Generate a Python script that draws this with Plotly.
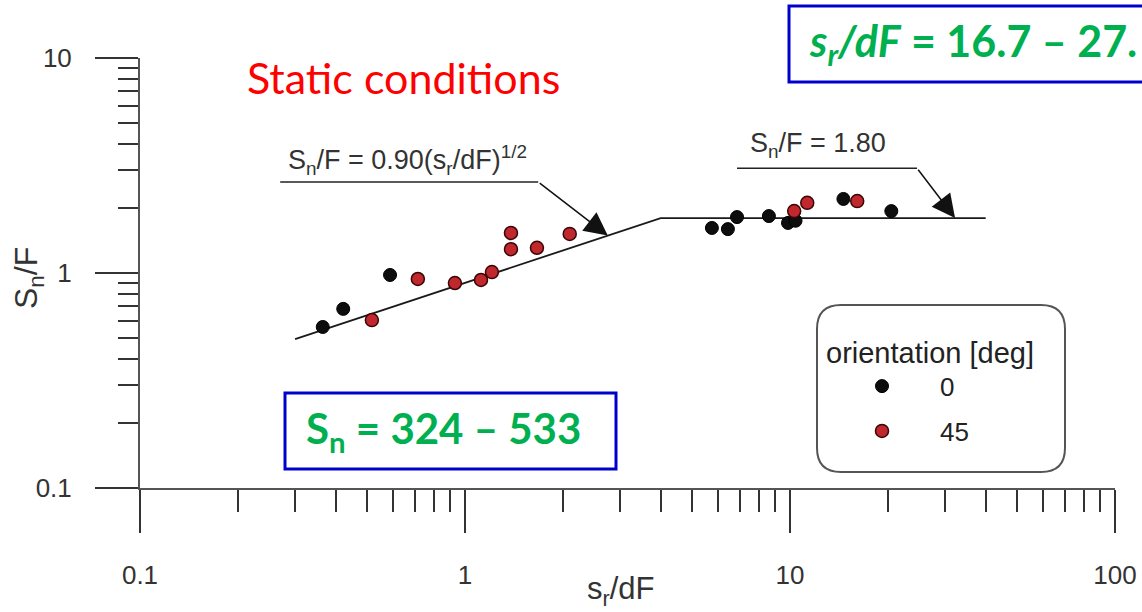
import math
import plotly.graph_objects as go

# Measured points, grouped by specimen orientation [deg]
orient0_x = [0.365, 0.422, 0.588, 5.75, 6.44, 6.87, 8.61, 9.86, 10.4, 14.6, 20.5]
orient0_y = [0.561, 0.681, 0.979, 1.62, 1.60, 1.82, 1.84, 1.71, 1.75, 2.21, 1.94]
orient45_x = [0.517, 0.716, 0.931, 1.12, 1.21, 1.385, 1.385, 1.665, 2.10, 10.3, 11.3, 16.1]
orient45_y = [0.604, 0.938, 0.898, 0.928, 1.01, 1.535, 1.29, 1.31, 1.52, 1.94, 2.12, 2.16]

# Axis ticks
x_tick_vals = [0.1, 1, 10, 100]
x_tick_text = ["0.1", "1", "10", "100"]
y_tick_vals = [0.1, 1, 10]
y_tick_text = ["0.1", "1", "10"]
x_minor_vals = [m * d for d in (0.1, 1, 10) for m in range(2, 10)]
y_minor_vals = [m * d for d in (0.1, 1) for m in range(2, 10)]

# Design correlation: Sn/F = 0.90 (sr/dF)^1/2, capped at Sn/F = 1.80
COEF = 0.90
PLATEAU = 1.80
fit_x = [0.3, (PLATEAU / COEF) ** 2, 40.0]
fit_y = [min(COEF * math.sqrt(x), PLATEAU) for x in fit_x]

# Figure geometry
W, H = 1142, 612
ML, MR, MT, MB = 140, 27, 58, 124


def px(xp):
    return (xp - ML) / (W - ML - MR)


def py(yp):
    return (H - MB - yp) / (H - MT - MB)


AX_FONT = "Liberation Sans, Arial, sans-serif"
CAL_FONT = "Lato, sans-serif"
GREEN = "#00B050"
BLUE = "#0000CC"
INK = "#333333"

fig = go.Figure()

fig.add_trace(go.Scatter(
    x=fit_x, y=fit_y, mode="lines",
    line=dict(color="#1a1a1a", width=1.8),
    showlegend=False, hoverinfo="skip"))

# leader underlines for the two equation labels
lead1_tip = (2.75, COEF * math.sqrt(2.75))
lead1_x = [0.27, 1.68]
lead1_y = [2.65, 2.65]
lead2_tip = (32.2, PLATEAU)
lead2_x = [6.87, 24.6]
lead2_y = [3.07, 3.07]
for lx, ly in ((lead1_x, lead1_y), (lead2_x, lead2_y)):
    fig.add_trace(go.Scatter(
        x=lx, y=ly, mode="lines",
        line=dict(color="#222222", width=1.5),
        showlegend=False, hoverinfo="skip"))

fig.add_trace(go.Scatter(
    x=orient0_x, y=orient0_y, mode="markers", name="0",
    legendgroup="g0",
    marker=dict(size=13, color="#0d0d0d", line=dict(color="#000000", width=1))))
fig.add_trace(go.Scatter(
    x=orient45_x, y=orient45_y, mode="markers", name="45",
    legendgroup="g45",
    marker=dict(size=13, color="#c0282e", line=dict(color="#3a0505", width=1.5))))

tick_common = dict(
    type="log", showgrid=False, zeroline=False,
    showline=True, linecolor="#555555", linewidth=2,
    ticks="outside", ticklen=43, tickwidth=1.5, tickcolor=INK,
    tickfont=dict(family=AX_FONT, size=26, color=INK),
)

fig.update_xaxes(
    range=[-1, 2], tickmode="array", tickvals=x_tick_vals, ticktext=x_tick_text,
    ticklabelstandoff=20,
    minor=dict(tickmode="array", tickvals=x_minor_vals, ticks="outside",
               ticklen=22, tickwidth=1.5, tickcolor=INK, showgrid=False),
    **tick_common)
fig.update_yaxes(
    range=[-1, 1], tickmode="array", tickvals=y_tick_vals, ticktext=y_tick_text,
    ticklabelstandoff=18,
    minor=dict(tickmode="array", tickvals=y_minor_vals, ticks="outside",
               ticklen=20, tickwidth=1.5, tickcolor=INK, showgrid=False),
    **tick_common)


def note(xp, yp, text, font, xanchor="center", **kw):
    return dict(x=px(xp), y=py(yp), xref="paper", yref="paper",
                xanchor=xanchor, yanchor="middle", text=text,
                showarrow=False, font=font, **kw)


annotations = [
    # axis titles
    note(621, 591, "s<sub>r</sub>/dF", dict(family=AX_FONT, size=31, color=INK)),
    note(28, 278, "S<sub>n</sub>/F", dict(family=AX_FONT, size=32, color=INK),
         textangle=-90),
    # equation labels
    note(286, 160, "S<sub>n</sub>/F = 0.90(s<sub>r</sub>/dF)<sup>1/2</sup>",
         dict(family=AX_FONT, size=27, color=INK), xanchor="left"),
    note(748, 145, "S<sub>n</sub>/F = 1.80",
         dict(family=AX_FONT, size=27, color=INK), xanchor="left"),
    # headline
    note(403, 77, "Static conditions", dict(family=CAL_FONT, size=43, color="#FF0000")),
    # boxed ranges
    note(807, 44, "<b><i>s<sub>r</sub>/dF</i> = 16.7 – 27.</b>",
         dict(family=CAL_FONT, size=43, color=GREEN), xanchor="left"),
    note(304, 431, "<b>S<sub>n</sub> = 324 – 533</b>",
         dict(family=CAL_FONT, size=42, color=GREEN), xanchor="left"),
    # arrowheads on the leader lines
    dict(x=math.log10(lead1_tip[0]), y=math.log10(lead1_tip[1]), xref="x", yref="y",
         ax=math.log10(lead1_x[-1]), ay=math.log10(lead1_y[-1]), axref="x", ayref="y",
         text="", showarrow=True, arrowhead=2, arrowsize=3.1, arrowwidth=1.5,
         arrowcolor="#111111", standoff=0),
    dict(x=math.log10(lead2_tip[0]), y=math.log10(lead2_tip[1]), xref="x", yref="y",
         ax=math.log10(lead2_x[-1]), ay=math.log10(lead2_y[-1]), axref="x", ayref="y",
         text="", showarrow=True, arrowhead=2, arrowsize=3.1, arrowwidth=1.5,
         arrowcolor="#111111", standoff=0),
]

# rounded frame around the legend
bl, br, bt, bb, rad = 817, 1065, 305, 472, 24
frame = (
    f"M {px(bl + rad)} {py(bt)} L {px(br - rad)} {py(bt)} "
    f"Q {px(br)} {py(bt)} {px(br)} {py(bt + rad)} "
    f"L {px(br)} {py(bb - rad)} Q {px(br)} {py(bb)} {px(br - rad)} {py(bb)} "
    f"L {px(bl + rad)} {py(bb)} Q {px(bl)} {py(bb)} {px(bl)} {py(bb - rad)} "
    f"L {px(bl)} {py(bt + rad)} Q {px(bl)} {py(bt)} {px(bl + rad)} {py(bt)} Z"
)

shapes = [
    dict(type="path", path=frame, xref="paper", yref="paper",
         line=dict(color="#555555", width=2), fillcolor="white", layer="below"),
    dict(type="rect", xref="paper", yref="paper",
         x0=px(789), x1=px(1170), y0=py(6), y1=py(82),
         line=dict(color=BLUE, width=3), fillcolor="white", layer="below"),
    dict(type="rect", xref="paper", yref="paper",
         x0=px(285), x1=px(616), y0=py(393), y1=py(469),
         line=dict(color=BLUE, width=3), fillcolor="white", layer="below"),
]

fig.update_layout(
    width=W, height=H,
    margin=dict(l=ML, r=MR, t=MT, b=MB, autoexpand=False),
    plot_bgcolor="white", paper_bgcolor="white",
    annotations=annotations,
    shapes=shapes,
    legend=dict(
        x=px(824), y=py(325), xanchor="left", yanchor="top",
        bgcolor="rgba(0,0,0,0)", borderwidth=0,
        itemwidth=106, traceorder="grouped", tracegroupgap=8,
        font=dict(family=AX_FONT, size=26, color="#222222"),
        title=dict(text="orientation [deg]", side="top",
                   font=dict(family=AX_FONT, size=29, color="#222222")),
    ),
)

fig.write_html("out.html")
